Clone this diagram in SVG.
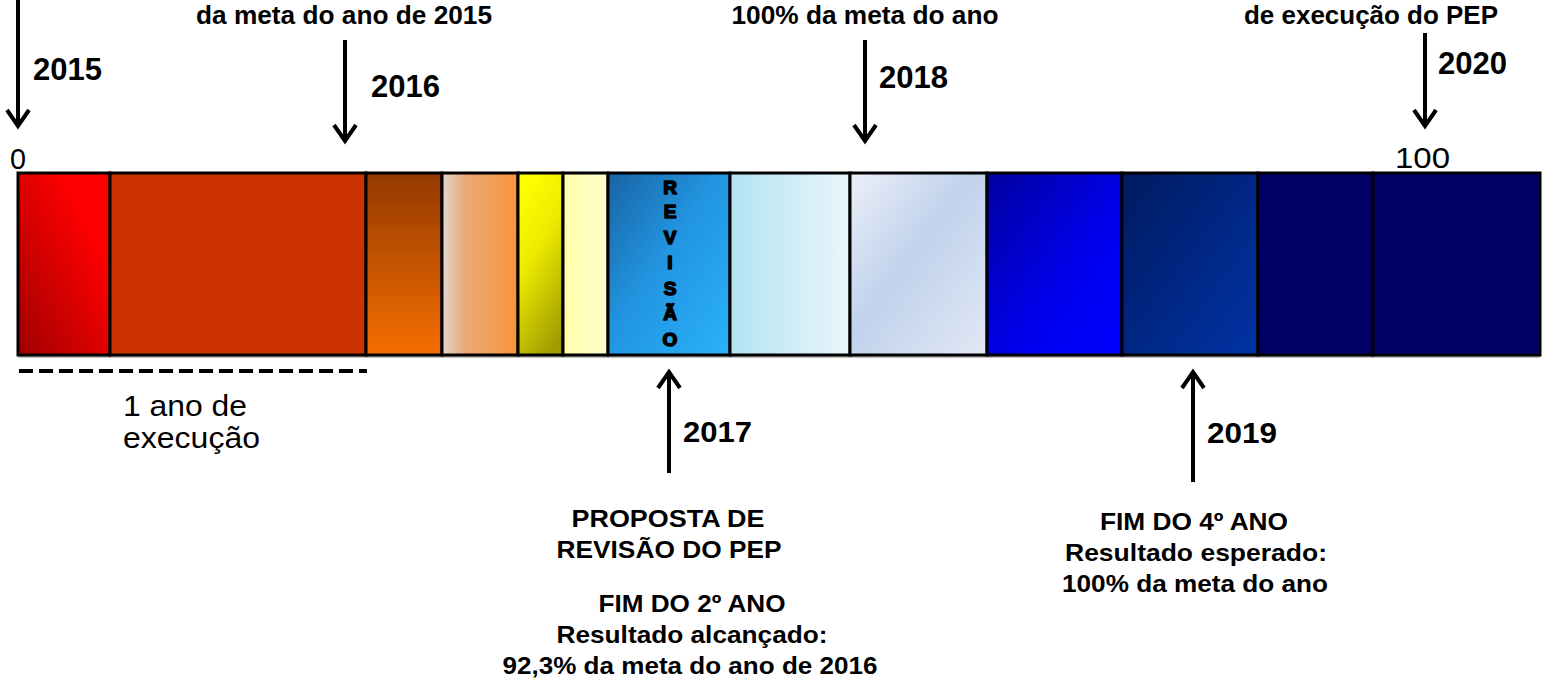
<svg xmlns="http://www.w3.org/2000/svg" width="1546" height="680" viewBox="0 0 1546 680">
<defs>
<style>
.cell{stroke:#000;stroke-width:3}
.yr{font-family:"Liberation Sans",Arial,sans-serif;font-weight:bold;font-size:32px;fill:#000}
.top{font-family:"Liberation Sans",Arial,sans-serif;font-weight:bold;font-size:26px;fill:#000;text-anchor:middle}
.yb{font-family:"Liberation Sans",Arial,sans-serif;font-weight:bold;font-size:29px;fill:#000}
.bt{font-family:"Liberation Sans",Arial,sans-serif;font-weight:bold;font-size:24px;fill:#000;text-anchor:middle}
.reg{font-family:"Liberation Sans",Arial,sans-serif;font-size:30px;fill:#000}
.rev{font-family:"Liberation Sans",Arial,sans-serif;font-weight:bold;font-size:19px;fill:#000;stroke:#000;stroke-width:1.6;stroke-linejoin:round;text-anchor:middle}
.arr{stroke:#000;stroke-width:4;fill:none}
</style>
<marker id="ah" viewBox="-20 -14 24 28" markerWidth="24" markerHeight="28" markerUnits="userSpaceOnUse" orient="auto" refX="0" refY="0">
<polyline points="-17,-11 -1,0 -17,11" fill="none" stroke="#000" stroke-width="4" stroke-linejoin="miter"/>
</marker>
<linearGradient id="g1" x1="0" y1="1" x2="1" y2="0"><stop offset="0" stop-color="#a00000"/><stop offset="0.75" stop-color="#ff0000"/><stop offset="1" stop-color="#ff0000"/></linearGradient>
<linearGradient id="g3" x1="0" y1="0" x2="0" y2="1"><stop offset="0" stop-color="#943a00"/><stop offset="1" stop-color="#f56e00"/></linearGradient>
<linearGradient id="g4" x1="0" y1="0" x2="1" y2="0"><stop offset="0" stop-color="#e2d8d2"/><stop offset="0.3" stop-color="#eaa878"/><stop offset="1" stop-color="#f8943a"/></linearGradient>
<linearGradient id="g5" x1="0.3" y1="0" x2="0.7" y2="1"><stop offset="0" stop-color="#ffff00"/><stop offset="0.4" stop-color="#eeea00"/><stop offset="1" stop-color="#a09c00"/></linearGradient>
<linearGradient id="g6" x1="0" y1="0" x2="1" y2="0"><stop offset="0" stop-color="#ffffa8"/><stop offset="1" stop-color="#fffccc"/></linearGradient>
<linearGradient id="g7" x1="0" y1="0" x2="1" y2="1"><stop offset="0" stop-color="#1864a4"/><stop offset="0.45" stop-color="#2294e0"/><stop offset="1" stop-color="#2ab2fa"/></linearGradient>
<linearGradient id="g8" x1="0" y1="0" x2="1" y2="0"><stop offset="0" stop-color="#b4e2f2"/><stop offset="1" stop-color="#e8f6fb"/></linearGradient>
<linearGradient id="g9" x1="0" y1="0" x2="1" y2="1"><stop offset="0" stop-color="#eceff8"/><stop offset="0.45" stop-color="#c0d2ec"/><stop offset="1" stop-color="#e2e8f4"/></linearGradient>
<linearGradient id="g10" x1="0" y1="0" x2="1" y2="1"><stop offset="0" stop-color="#0000a0"/><stop offset="0.6" stop-color="#0000ee"/><stop offset="1" stop-color="#0000ff"/></linearGradient>
<linearGradient id="g11" x1="0" y1="0" x2="1" y2="1"><stop offset="0" stop-color="#001a60"/><stop offset="1" stop-color="#0033a6"/></linearGradient>
</defs>
<rect width="1546" height="680" fill="#fff"/>

<line x1="18" y1="357" x2="1540" y2="357" stroke="#bbb" stroke-width="2"/>

<g id="seg1"><rect class="cell" x="18" y="173" width="92" height="182" fill="url(#g1)"/></g>
<g id="seg2"><rect class="cell" x="110" y="173" width="256" height="182" fill="#cc3300"/></g>
<g id="seg3"><rect class="cell" x="366" y="173" width="76" height="182" fill="url(#g3)"/></g>
<g id="seg4"><rect class="cell" x="442" y="173" width="76" height="182" fill="url(#g4)"/></g>
<g id="seg5"><rect class="cell" x="518" y="173" width="45" height="182" fill="url(#g5)"/></g>
<g id="seg6"><rect class="cell" x="563" y="173" width="45" height="182" fill="url(#g6)"/></g>
<g id="seg7"><rect class="cell" x="608" y="173" width="122" height="182" fill="url(#g7)"/>
<text class="rev" x="670" y="194">R</text>
<text class="rev" x="670" y="218">E</text>
<text class="rev" x="670" y="244">V</text>
<text class="rev" x="670" y="269">I</text>
<text class="rev" x="670" y="295">S</text>
<text class="rev" x="670" y="320">Ã</text>
<text class="rev" x="670" y="346">O</text>
</g>
<g id="seg8"><rect class="cell" x="730" y="173" width="120" height="182" fill="url(#g8)"/></g>
<g id="seg9"><rect class="cell" x="850" y="173" width="137" height="182" fill="url(#g9)"/></g>
<g id="seg10"><rect class="cell" x="987" y="173" width="135" height="182" fill="url(#g10)"/></g>
<g id="seg11"><rect class="cell" x="1122" y="173" width="136" height="182" fill="url(#g11)"/></g>
<g id="seg12"><rect class="cell" x="1258" y="173" width="115" height="182" fill="#000066"/></g>
<g id="seg13"><rect class="cell" x="1373" y="173" width="167" height="182" fill="#000066"/></g>

<g id="scale">
<text class="reg" x="10" y="169" textLength="16" lengthAdjust="spacingAndGlyphs">0</text>
<text class="reg" x="1395" y="168" textLength="55" lengthAdjust="spacingAndGlyphs">100</text>
</g>

<g id="one-year">
<line x1="19" y1="371" x2="367" y2="371" stroke="#000" stroke-width="4" stroke-dasharray="14 6"/>
<text class="reg" x="123" y="416" textLength="124" lengthAdjust="spacingAndGlyphs">1 ano de</text>
<text class="reg" x="123" y="448" textLength="137" lengthAdjust="spacingAndGlyphs">execução</text>
</g>

<g id="connectors">
<line class="arr" x1="18" y1="0" x2="18" y2="127" marker-end="url(#ah)"/>
<line class="arr" x1="345" y1="40" x2="345" y2="142" marker-end="url(#ah)"/>
<line class="arr" x1="865" y1="40" x2="865" y2="142" marker-end="url(#ah)"/>
<line class="arr" x1="1425" y1="33" x2="1425" y2="127" marker-end="url(#ah)"/>
<line class="arr" x1="669" y1="473" x2="669" y2="371" marker-end="url(#ah)"/>
<line class="arr" x1="1193" y1="482" x2="1193" y2="371" marker-end="url(#ah)"/>
</g>

<g id="m2015">
<text class="yr" x="33" y="80" textLength="69" lengthAdjust="spacingAndGlyphs">2015</text>
</g>
<g id="m2016">
<text class="top" x="344" y="24" textLength="296" lengthAdjust="spacingAndGlyphs">da meta do ano de 2015</text>
<text class="yr" x="371" y="97" textLength="69" lengthAdjust="spacingAndGlyphs">2016</text>
</g>
<g id="m2017">
<text class="yb" x="683" y="442" textLength="69" lengthAdjust="spacingAndGlyphs">2017</text>
<text class="bt" x="668" y="527" textLength="193" lengthAdjust="spacingAndGlyphs">PROPOSTA DE</text>
<text class="bt" x="669" y="558" textLength="225" lengthAdjust="spacingAndGlyphs">REVISÃO DO PEP</text>
<text class="bt" x="692" y="612" textLength="187" lengthAdjust="spacingAndGlyphs">FIM DO 2º ANO</text>
<text class="bt" x="692" y="643" textLength="271" lengthAdjust="spacingAndGlyphs">Resultado alcançado:</text>
<text class="bt" x="690" y="674" textLength="375" lengthAdjust="spacingAndGlyphs">92,3% da meta do ano de 2016</text>
</g>
<g id="m2018">
<text class="top" x="865" y="24" textLength="267" lengthAdjust="spacingAndGlyphs">100% da meta do ano</text>
<text class="yr" x="879" y="88" textLength="69" lengthAdjust="spacingAndGlyphs">2018</text>
</g>
<g id="m2019">
<text class="yb" x="1207" y="443" textLength="70" lengthAdjust="spacingAndGlyphs">2019</text>
<text class="bt" x="1194" y="530" textLength="188" lengthAdjust="spacingAndGlyphs">FIM DO 4º ANO</text>
<text class="bt" x="1196" y="561" textLength="262" lengthAdjust="spacingAndGlyphs">Resultado esperado:</text>
<text class="bt" x="1195" y="592" textLength="266" lengthAdjust="spacingAndGlyphs">100% da meta do ano</text>
</g>
<g id="m2020">
<text class="top" x="1371" y="24" textLength="254" lengthAdjust="spacingAndGlyphs">de execução do PEP</text>
<text class="yr" x="1438" y="74" textLength="69" lengthAdjust="spacingAndGlyphs">2020</text>
</g>
</svg>
